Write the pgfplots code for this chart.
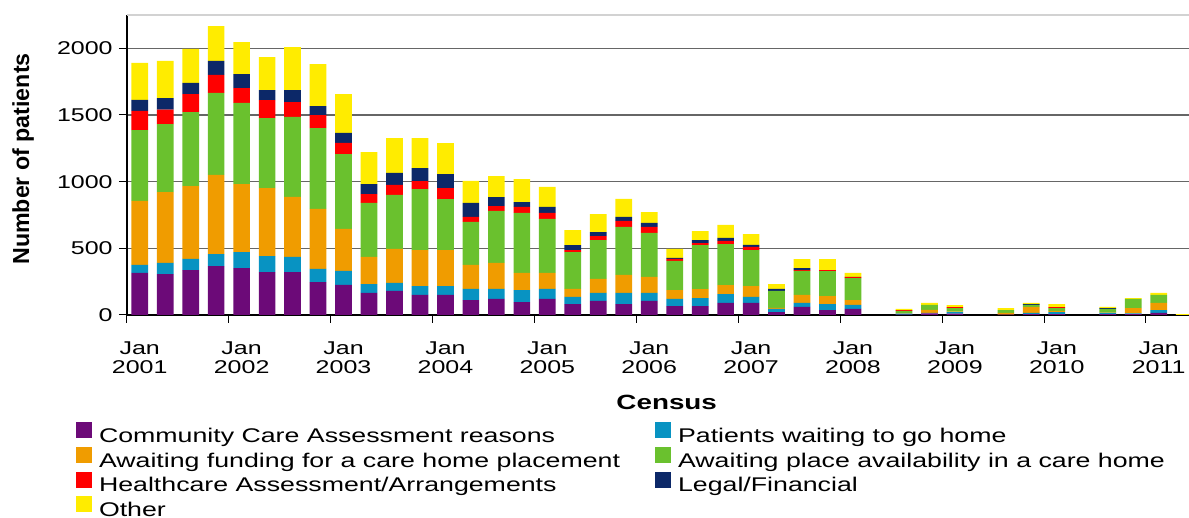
\documentclass[border=0pt]{standalone}
\usepackage{fontspec}
\setmainfont{Liberation Sans}[FakeStretch=1.35]
\newfontfamily\ylabfont{Liberation Sans}
\usepackage{pgfplots}
\pgfplotsset{compat=1.18}
\usepackage{pgfplotstable}

\definecolor{ccaC}{RGB}{108,10,120}
\definecolor{homeC}{RGB}{8,147,194}
\definecolor{fundC}{RGB}{240,156,0}
\definecolor{placeC}{RGB}{106,193,46}
\definecolor{hcC}{RGB}{255,0,0}
\definecolor{legC}{RGB}{12,40,104}
\definecolor{othC}{RGB}{255,236,0}

\pgfplotstableread{
x p t o g r n y
0 315 60 480 532 143 83 277
1 307 83 532 510 108 87 278
2 337 83 547 555 135 83 255
3 367 90 593 615 135 105 262
4 352 120 510 608 112 105 240
5 322 120 510 525 135 75 247
6 322 113 450 600 112 90 322
7 247 98 450 607 97 68 315
8 225 105 315 562 83 75 292
9 165 67 203 405 67 75 240
10 180 60 255 405 75 90 262
11 150 67 270 457 60 98 225
12 150 67 270 382 83 105 232
13 112 83 180 323 37 105 165
14 120 75 195 390 37 67 157
15 97 90 128 450 45 37 172
16 120 75 120 405 45 45 150
17 82 53 60 277 15 37 113
18 105 60 105 292 30 30 135
19 82 83 135 360 45 30 135
20 105 60 120 330 45 30 82
21 67 53 67 218 15 8 67
22 67 60 67 330 15 23 67
23 90 67 67 308 23 23 97
24 90 45 82 270 23 15 82
25 22 23 8 127 0 15 37
26 60 30 60 180 7 15 67
27 37 45 60 187 7 0 83
28 45 30 37 165 7 2 30
29 0 0 0 0 0 0 0
30 2 8 3 17 7 0 8
31 12 3 23 37 0 0 15
32 10 12 3 27 7 0 15
33 0 0 0 0 0 0 0
34 2 0 13 22 0 0 15
35 7 8 45 15 0 7 8
36 7 15 8 22 7 0 22
37 0 0 0 0 0 0 0
38 7 8 2 28 0 7 8
39 7 5 40 68 0 0 7
40 15 22 53 60 0 0 15
41 0 0 0 0 0 0 7
}\dtable

\begin{document}
\begin{tikzpicture}
\begin{axis}[
  scale only axis, width=531pt, height=150pt,
  ybar stacked, bar width=0.655,
  xmin=-0.5, xmax=41.19, ymin=0, ymax=2250,
  axis x line*=bottom, axis y line*=left,
  axis line style={black, line width=0.6pt},
  tick align=outside, major tick length=4pt,
  tick style={black, line width=0.5pt},
  ytick={0,500,1000,1500,2000},
  extra y ticks={2250}, extra y tick labels={},
  extra y tick style={major tick length=0pt, major grid style={gray!35, line width=0.6pt}},
  ymajorgrids, major grid style={black!60, line width=0.6pt},
  xtick={-0.5,3.5,...,39.5}, xticklabels={},
  extra x ticks={0,4,...,40},
  extra x tick labels={Jan\\[-1.75pt]2001,Jan\\[-1.75pt]2002,Jan\\[-1.75pt]2003,Jan\\[-1.75pt]2004,Jan\\[-1.75pt]2005,Jan\\[-1.75pt]2006,Jan\\[-1.75pt]2007,Jan\\[-1.75pt]2008,Jan\\[-1.75pt]2009,Jan\\[-1.75pt]2010,Jan\\[-1.75pt]2011},
  extra x tick style={major tick length=0pt},
  xticklabel style={align=center, font=\fontsize{9.25}{11.25}\selectfont, inner sep=0pt, anchor=north, yshift=-13.35pt},
  yticklabel style={font=\fontsize{9.25}{11}\selectfont, inner sep=0pt, anchor=east, xshift=-3pt},
  /pgf/number format/assume math mode=true,
  /pgf/number format/1000 sep={},
  xlabel={Census},
  xlabel style={at={(axis description cs:0.5082,-0.29)}, anchor=center, font=\fontsize{10.3}{12}\selectfont\bfseries},
  ylabel={Number of patients},
  ylabel style={at={(axis description cs:-0.0979,0.52)}, anchor=center, font=\ylabfont\fontsize{11.6}{13}\selectfont\bfseries},
  every axis plot/.append style={draw=none},
  legend image code/.code={\fill[#1] (0pt,-0.5pt) rectangle (8pt,7.5pt);},
  legend columns=2,
  legend cell align=left,
  legend style={at={(axis description cs:-0.048,-0.357)}, anchor=north west,
    draw=none, fill=none, inner sep=0pt, outer sep=0pt,
    font=\fontsize{9.9}{12}\selectfont,
    row sep=0pt,
    nodes={inner xsep=0pt, inner ysep=0pt, text height=7.5pt, text depth=2.3pt},
    /tikz/every odd column/.append style={column sep=3.5pt},
    /tikz/every even column/.append style={column sep=17.5pt}},
]
\addplot[fill=ccaC] table[x=x,y=p]{\dtable};
\addlegendentry{Community Care Assessment reasons}
\addplot[fill=homeC] table[x=x,y=t]{\dtable};
\addlegendentry{Patients waiting to go home}
\addplot[fill=fundC] table[x=x,y=o]{\dtable};
\addlegendentry{Awaiting funding for a care home placement}
\addplot[fill=placeC] table[x=x,y=g]{\dtable};
\addlegendentry{Awaiting place availability in a care home}
\addplot[fill=hcC] table[x=x,y=r]{\dtable};
\addlegendentry{Healthcare Assessment/Arrangements}
\addplot[fill=legC] table[x=x,y=n]{\dtable};
\addlegendentry{Legal/Financial}
\addplot[fill=othC] table[x=x,y=y]{\dtable};
\addlegendentry{Other}
\end{axis}
\pgfresetboundingbox
\path (-63.5pt,-101.5pt) rectangle (531pt,157.5pt);
\end{tikzpicture}
\end{document}
